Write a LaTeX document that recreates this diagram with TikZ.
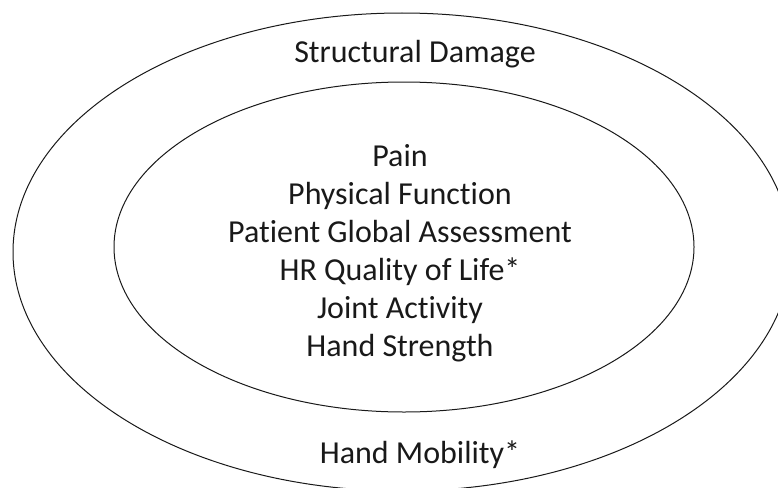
\documentclass[tikz,border=0pt]{standalone}
\usepackage{fontspec}
\setmainfont{Carlito}[Ligatures={NoCommon}]
\usepackage{xcolor}

\tikzset{
  ring/.style={draw=black!90, line width=1pt},
  lbl/.style={anchor=base, inner sep=0pt, text=black!90, font=\fontsize{32}{38}\selectfont}
}

\begin{document}
\begin{tikzpicture}[x=1pt, y=-1pt]
\useasboundingbox (0,0) rectangle (778,487);
% Rings
\draw[ring] (402,252) ellipse [x radius=389, y radius=239];
\draw[ring] (404,247) ellipse [x radius=290, y radius=165];

% Outer ring
\node[lbl] (damage) at (415,63) {Structural Damage};
\node[lbl] (mobility) at (420,463) {Hand Mobility*};

% Inner ring
\node[lbl] (pain) at (400,166) {Pain};
\node[lbl] (function) at (400,204) {Physical Function};
\node[lbl] (global) at (400,242) {Patient Global Assessment};
\node[lbl] (qol) at (400,280) {HR Quality of Life*};
\node[lbl] (joint) at (400,318) {Joint Activity};
\node[lbl] (strength) at (400,356) {Hand Strength};
\end{tikzpicture}
\end{document}
